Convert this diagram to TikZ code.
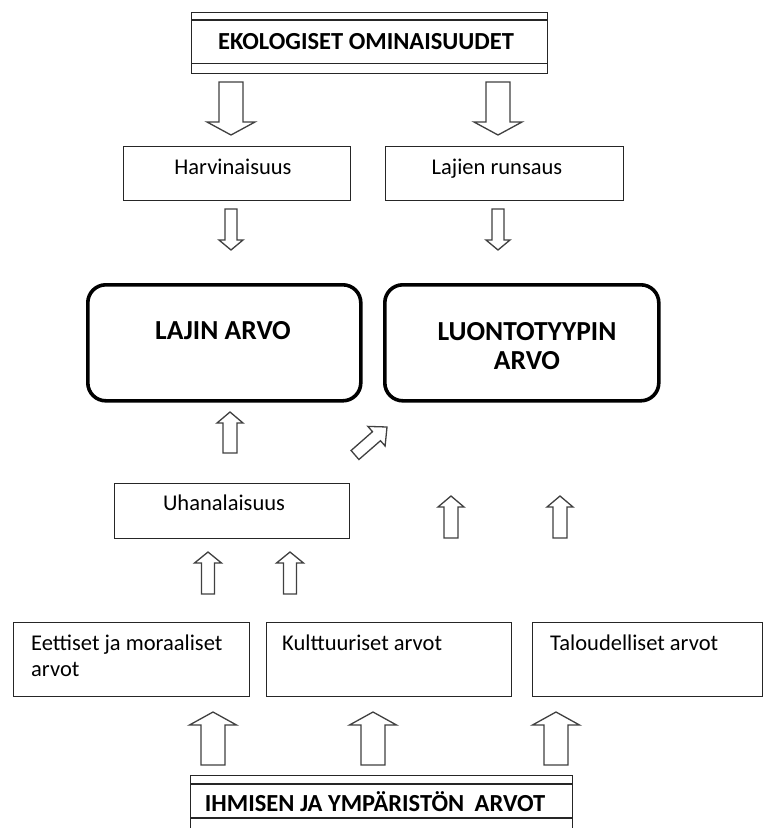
\documentclass[tikz,border=0pt]{standalone}
\usepackage{fontspec}
\setmainfont{Carlito}
\newcommand{\varrow}[6]{%
  \draw[barrow] (#1-#5,#2) -- (#1-#5,#3) -- (#1-#6,#3) -- (#1,#4) -- (#1+#6,#3) -- (#1+#5,#3) -- (#1+#5,#2) -- cycle;}
\begin{document}
\begin{tikzpicture}[x=1pt,y=-1pt,
  thinbox/.style={draw=black!85, line width=1.4pt, rectangle, inner sep=0pt, anchor=north west},
  bigbox/.style={draw=black, line width=3.6pt, rectangle, rounded corners=18pt, inner sep=0pt, anchor=north west},
  barrow/.style={draw=black!75, line width=1.3pt, fill=white, line join=miter},
  lbl/.style={font=\fontsize{22.5}{26}\selectfont, inner sep=0pt, anchor=base},
  lbll/.style={font=\fontsize{22.5}{26}\selectfont, inner sep=0pt, anchor=base west},
  hdr/.style={font=\fontsize{24.5}{28}\selectfont\bfseries, inner sep=0pt, anchor=base},
  bighdr/.style={font=\fontsize{27.5}{30}\selectfont\bfseries, inner sep=0pt, anchor=base}]
\clip (0,0) rectangle (764,828);
\fill[white] (0,0) rectangle (764,828);

% top header box
\node[thinbox, minimum width=356pt, minimum height=61pt] (eko) at (191,12) {};
\draw[black!85, line width=1.4pt] (eko.north west) ++(0,8) -- ++(356,0);
\draw[black!85, line width=1.4pt] (eko.south west) ++(0,-11) -- ++(356,0);
\node[hdr] (ekot) at (366,49) {EKOLOGISET OMINAISUUDET};

% second row
\node[thinbox, minimum width=227pt, minimum height=54pt] (harv) at (123,146) {};
\node[lbl] (harvt) at (233,174) {Harvinaisuus};
\node[thinbox, minimum width=238pt, minimum height=54pt] (laj) at (385,146) {};
\node[lbl] (lajt) at (497,174) {Lajien runsaus};

% big rounded boxes
\node[bigbox, minimum width=273pt, minimum height=116pt] (lajin) at (86,283) {};
\node[bighdr] (lajint) at (223,339) {LAJIN ARVO};
\node[bigbox, minimum width=274pt, minimum height=116pt] (luonto) at (383,283) {};
\node[bighdr] (luontot1) at (527,340) {LUONTOTYYPIN};
\node[bighdr] (luontot2) at (527,369) {ARVO};

% Uhanalaisuus
\node[thinbox, minimum width=235pt, minimum height=55pt] (uhan) at (114,483) {};
\node[lbl] (uhant) at (224,510) {Uhanalaisuus};

% bottom value boxes
\node[thinbox, minimum width=236pt, minimum height=74pt] (eett) at (13,622) {};
\node[lbll] (eett1) at (31,650) {Eettiset ja moraaliset};
\node[lbll] (eett2) at (31,676) {arvot};
\node[thinbox, minimum width=245pt, minimum height=74pt] (kult) at (266,622) {};
\node[lbll] (kultt) at (282,650) {Kulttuuriset arvot};
\node[thinbox, minimum width=230pt, minimum height=74pt] (talo) at (532,622) {};
\node[lbll] (talot) at (550,650) {Taloudelliset arvot};

% bottom header box
\node[thinbox, minimum width=382pt, minimum height=70pt] (ihm) at (190,775) {};
\draw[black!85, line width=1.4pt] (ihm.north west) ++(0,9) -- ++(382,0);
\draw[black!85, line width=1.4pt] (ihm.north west) ++(0,43) -- ++(382,0);
\node[hdr] (ihmt) at (375,811) {IHMISEN JA YMPÄRISTÖN\hspace{0.2em} ARVOT};

% block arrows: cx, tail, head base, tip, shaft half, wing half
\varrow{231}{82}{122}{135}{12}{24}
\varrow{498}{82}{122}{135}{12}{24}
\varrow{231}{209}{240}{250}{6}{12}
\varrow{498}{209}{240}{250}{6}{12}
\varrow{230}{453}{423}{412}{7}{13}
\varrow{451}{538}{507}{496}{7}{13}
\varrow{560}{538}{507}{496}{7}{13}
\varrow{208}{594}{563}{552}{6.5}{13.5}
\varrow{290}{594}{563}{552}{6.5}{13.5}
\varrow{213}{765}{725}{712}{12}{23.5}
\varrow{373}{765}{725}{712}{12}{23.5}
\varrow{556}{765}{725}{712}{12}{23.5}
% diagonal arrow
\draw[barrow] (358.9,459.5) -- (351.1,450.5) -- (372.5,431.7) -- (367.9,426.4) -- (387,427) -- (385.1,446.0) -- (380.5,440.7) -- cycle;
\end{tikzpicture}
\end{document}
